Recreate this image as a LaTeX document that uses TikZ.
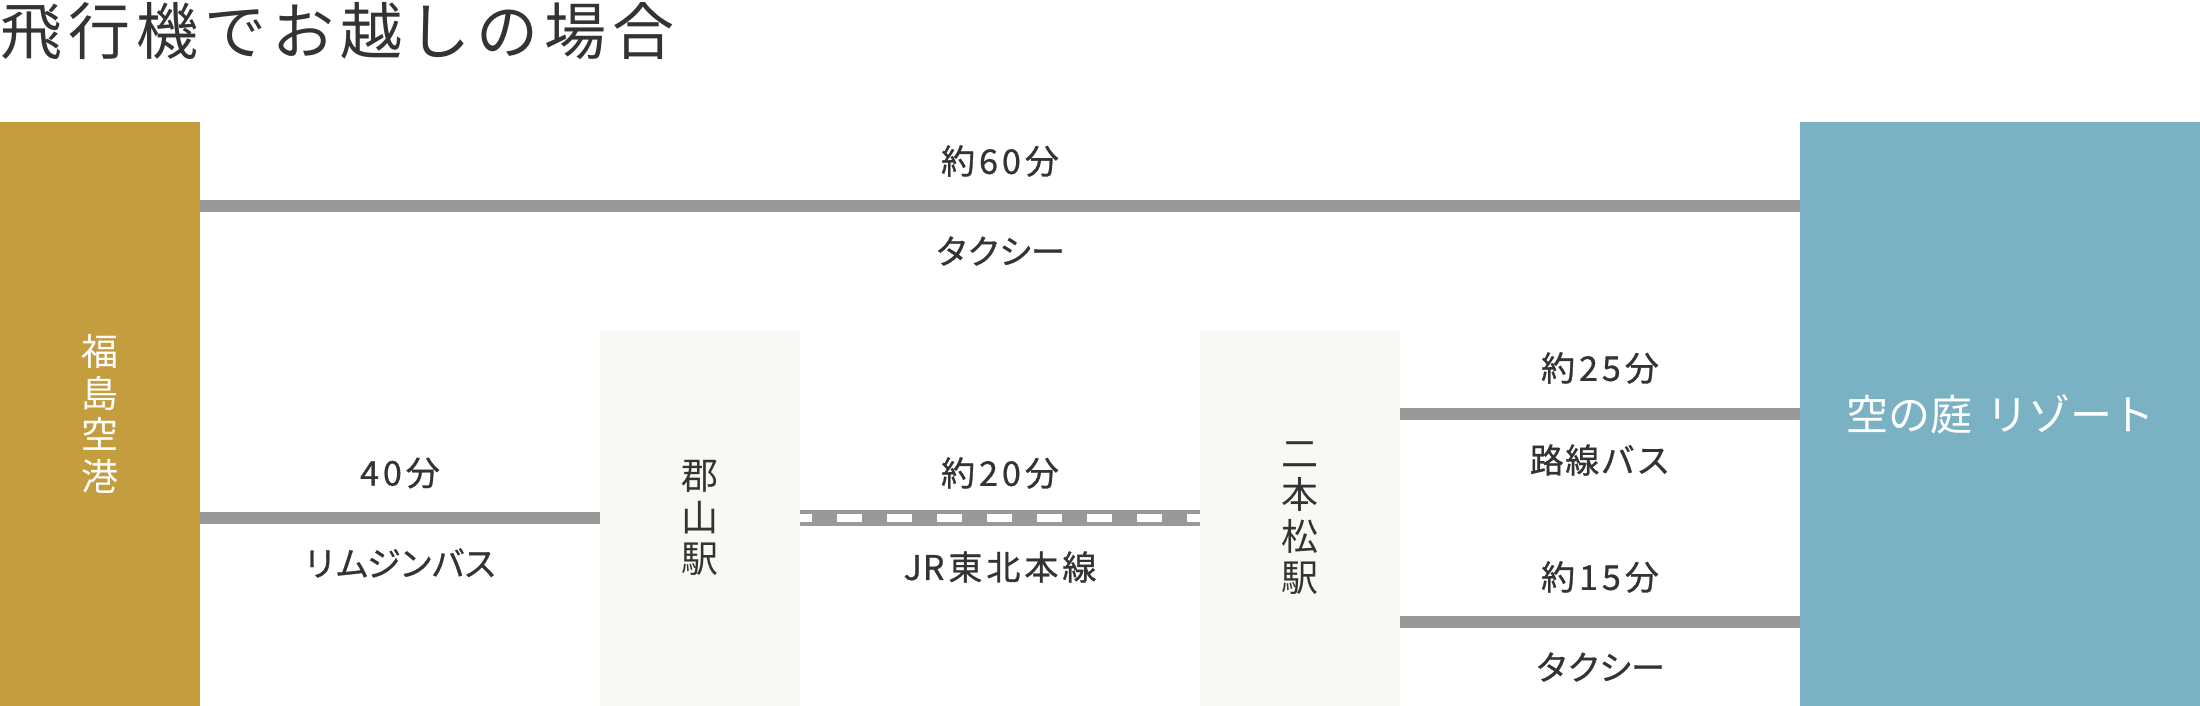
\documentclass[tikz,border=0pt]{standalone}
\usepackage{fontspec}
\setmainfont{Noto Sans CJK JP}
\newfontfamily\jpbold{Noto Sans CJK JP}[FakeBold=0.8]
\ExplSyntaxOn
\NewDocumentCommand\lsp{mm}{\tl_map_inline:nn{#2}{##1\kern#1}\kern-#1}
\ExplSyntaxOff
\definecolor{gold}{HTML}{C49D3E}
\definecolor{sky}{HTML}{7AB1C3}
\definecolor{stbg}{HTML}{F8F8F5}
\definecolor{routegray}{HTML}{999999}
\definecolor{ink}{HTML}{333333}
\begin{document}
\begin{tikzpicture}[x=1pt,y=-1pt,
  lbl/.style={text=ink,inner sep=0pt,font=\jpbold\fontsize{34}{40}\selectfont},
  hub/.style={rectangle,inner sep=0pt,minimum width=200pt,align=center,font=\fontsize{37}{41.5}\selectfont},
  route/.style={draw=routegray,line width=12pt},
  rail/.style={draw=routegray,line width=16pt},
  railgap/.style={draw=white,line width=8pt,dash pattern=on 25pt off 25pt,dash phase=13pt}]
\useasboundingbox[fill=white] (0,0) rectangle (2200,706);
\node[anchor=west,text=ink,inner sep=0pt,font=\fontsize{62}{70}\selectfont] (title) at (0,31) {\lsp{6pt}{飛行機でお越しの場合}};
\node[hub,fill=gold,minimum height=584pt,text=white] (airport) at (100,414) {福\\島\\空\\港};
\node[hub,fill=stbg,minimum height=376pt,text=ink] (koriyama) at (700,518) {郡\\山\\駅};
\node[hub,fill=stbg,minimum height=376pt,text=ink] (nihonmatsu) at (1300,518) {二\\本\\松\\駅};
\node[rectangle,fill=sky,minimum width=400pt,minimum height=584pt,inner sep=0pt,text=white,font=\fontsize{42}{48}\selectfont] (resort) at (2000,414) {空の庭\hspace{14pt}リゾート};
\coordinate (yTop) at (0,206);
\coordinate (yMid) at (0,518);
\coordinate (yBus) at (0,414);
\coordinate (yTaxi) at (0,622);
\draw[route] (airport.east |- yTop) -- (resort.west |- yTop);
\draw[route] (airport.east |- yMid) -- (koriyama.west |- yMid);
\draw[rail] (koriyama.east |- yMid) -- (nihonmatsu.west |- yMid);
\draw[railgap] (koriyama.east |- yMid) -- (nihonmatsu.west |- yMid);
\draw[route] (nihonmatsu.east |- yBus) -- (resort.west |- yBus);
\draw[route] (nihonmatsu.east |- yTaxi) -- (resort.west |- yTaxi);
\node[lbl] (t60) at (1000,161) {\lsp{4pt}{約60分}};
\node[lbl] (taxi1) at (1000,251) {\lsp{-2pt}{タクシー}};
\node[lbl] (t40) at (400,473) {\lsp{4pt}{40分}};
\node[lbl] (limo) at (400,563) {\lsp{-2pt}{リムジンバス}};
\node[lbl] (t20) at (1000,473) {\lsp{4pt}{約20分}};
\node[lbl] (jr) at (1000,567) {J\kern1ptR\kern4pt\lsp{4pt}{東北本線}};
\node[lbl] (t25) at (1600,368) {\lsp{4pt}{約25分}};
\node[lbl] (bus) at (1600,460) {\lsp{1.5pt}{路線バス}};
\node[lbl] (t15) at (1600,577) {\lsp{4pt}{約15分}};
\node[lbl] (taxi2) at (1600,667) {\lsp{-2pt}{タクシー}};
\end{tikzpicture}
\end{document}
